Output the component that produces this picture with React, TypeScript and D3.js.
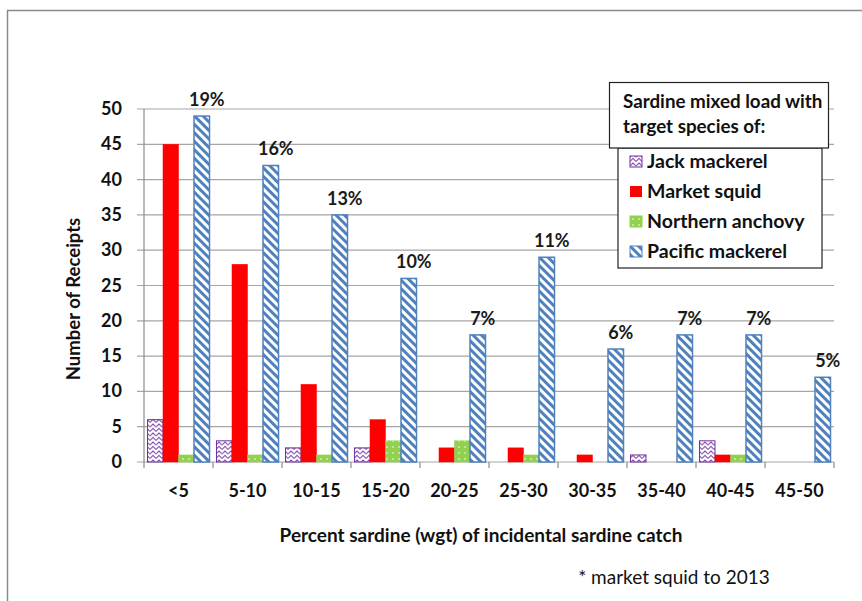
import React from "react";
import * as d3 from "d3";

const categories = ["<5", "5-10", "10-15", "15-20", "20-25", "25-30", "30-35", "35-40", "40-45", "45-50"];
const seriesNames = ["Jack mackerel", "Market squid", "Northern anchovy", "Pacific mackerel"];
const jackMackerel = [6, 3, 2, 2, 0, 0, 0, 1, 3, 0];
const marketSquid = [45, 28, 11, 6, 2, 2, 1, 0, 1, 0];
const northernAnchovy = [1, 1, 1, 3, 3, 1, 0, 0, 1, 0];
const pacificMackerel = [49, 42, 35, 26, 18, 29, 16, 18, 18, 12];
const pacificPercent = ["19%", "16%", "13%", "10%", "7%", "11%", "6%", "7%", "7%", "5%"];
const yTicks = [0, 5, 10, 15, 20, 25, 30, 35, 40, 45, 50];

const seriesValues = [jackMackerel, marketSquid, northernAnchovy, pacificMackerel];
const fills = ["url(#zig)", "#FF0000", "url(#dots)", "url(#diag)"];
const strokes = ["#7030A0", "#FF0000", "#92D050", "#4F81BD"];
const strokeW = [1, 0.5, 0.5, 1.5];

const FONT = "Lato, 'Open Sans', sans-serif";

export default function App() {
  const W = 862, H = 601;
  const x = d3.scaleBand<string>().domain(categories).range([144, 834]).paddingInner(0).paddingOuter(0);
  const xs = d3.scaleBand<string>().domain(seriesNames).range([0, x.bandwidth()]).paddingInner(0).paddingOuter(0.225);
  const y = d3.scaleLinear().domain([0, 50]).range([462, 109]);
  const ticksX = categories.map((c) => x(c)!).concat([834]);

  return (
    <svg width={W} height={H} style={{ position: "absolute", left: 0, top: 0, background: "#fff" }} fontFamily={FONT}>
      <defs>
        <pattern id="diag" patternUnits="userSpaceOnUse" width="6" height="6" patternTransform="rotate(-45)">
          <rect width="6" height="6" fill="#fff" />
          <rect x="0" y="0" width="3" height="6" fill="#4F81BD" />
        </pattern>
        <pattern id="zig" patternUnits="userSpaceOnUse" width="6" height="4.5">
          <rect width="6" height="4.5" fill="#fff" />
          <path d="M0,4 L3,1 L6,4" fill="none" stroke="#7030A0" strokeWidth="1" />
        </pattern>
        <pattern id="dots" patternUnits="userSpaceOnUse" width="6" height="6">
          <rect width="6" height="6" fill="#92D050" />
          <circle cx="3" cy="3" r="0.8" fill="#fff" />
        </pattern>
      </defs>

      {/* outer border */}
      <path d={`M7.5,${H + 2} L7.5,10.5 L${W + 2},10.5`} fill="none" stroke="#8a8a8a" strokeWidth="1.5" />

      {/* gridlines */}
      {yTicks.map((t) => (
        <line key={t} x1={137} x2={834} y1={y(t)} y2={y(t)} stroke="#a6a6a6" strokeWidth="1.2" />
      ))}
      {/* y axis */}
      <line x1={144} x2={144} y1={y(50)} y2={y(0)} stroke="#8c8c8c" strokeWidth="1.2" />
      {/* x ticks */}
      {ticksX.map((tx, i) => (
        <line key={i} x1={tx} x2={tx} y1={y(0)} y2={y(0) + 6} stroke="#8c8c8c" strokeWidth="1.2" />
      ))}

      {/* bars */}
      {categories.map((c, ci) => (
        <g key={c}>
          {seriesNames.map((s, si) => {
            const v = seriesValues[si][ci];
            if (v <= 0) return null;
            const bx = x(c)! + xs(s)!;
            const by = y(v);
            return (
              <rect
                key={s}
                x={bx}
                y={by}
                width={xs.bandwidth()}
                height={y(0) - by}
                fill={fills[si]}
                stroke={strokes[si]}
                strokeWidth={strokeW[si]}
              />
            );
          })}
          <text
            x={x(c)! + xs("Pacific mackerel")! + xs.bandwidth() / 2 + 5}
            y={y(pacificMackerel[ci]) - 10}
            textAnchor="middle"
            fontSize="18"
            fontWeight="bold"
            fill="#1a1a1a"
          >
            {pacificPercent[ci]}
          </text>
        </g>
      ))}

      {/* y tick labels */}
      {yTicks.map((t) => (
        <text key={t} x={122} y={y(t) + 6} textAnchor="end" fontSize="18" fontWeight="bold" fill="#111">
          {t}
        </text>
      ))}
      {/* x tick labels */}
      {categories.map((c) => (
        <text key={c} x={x(c)! + x.bandwidth() / 2} y={497} textAnchor="middle" fontSize="18" fontWeight="bold" fill="#111">
          {c}
        </text>
      ))}

      {/* axis titles */}
      <text transform="translate(80,299) rotate(-90)" textAnchor="middle" fontSize="18.5" fontWeight="bold" fill="#111">
        Number of Receipts
      </text>
      <text x={481} y={542} textAnchor="middle" fontSize="19" fontWeight="bold" fill="#111">
        Percent sardine (wgt) of incidental sardine catch
      </text>
      <text x={674} y={584} textAnchor="middle" fontSize="19" fill="#111">
        * market squid to 2013
      </text>

      {/* legend */}
      <rect x={618} y={148} width={204} height={120} fill="#fff" stroke="#222" strokeWidth="1.2" />
      <rect x={609.5} y={82.5} width={219} height={65.5} fill="#fff" stroke="#222" strokeWidth="1.2" />
      <text x={623} y={108} fontSize="18.8" fontWeight="bold" fill="#111">Sardine mixed load with</text>
      <text x={623} y={133} fontSize="18.8" fontWeight="bold" fill="#111">target species of:</text>
      {seriesNames.map((s, si) => (
        <g key={s}>
          <rect x={630} y={156 + si * 30} width={12} height={11} fill={fills[si]} stroke={strokes[si]} strokeWidth={si === 1 ? 0 : 1} />
          <text x={647} y={168 + si * 30} fontSize="19.5" fontWeight="bold" fill="#111">
            {s}
          </text>
        </g>
      ))}
    </svg>
  );
}
